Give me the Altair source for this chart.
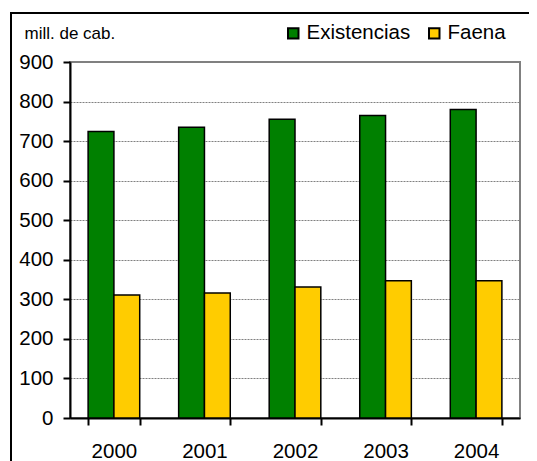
import altair as alt
import pandas as pd

years = ["2000", "2001", "2002", "2003", "2004"]
existencias = [724, 735, 755, 765, 780]
faena = [311, 316, 331, 347, 347]
series_names = ["Existencias", "Faena"]
series_colors = ["#008000", "#FFCC00"]

rows = []
for i, y in enumerate(years):
    rows.append({"year": y, "serie": "Existencias", "value": existencias[i]})
    rows.append({"year": y, "serie": "Faena", "value": faena[i]})
df = pd.DataFrame(rows)

FONT = "Liberation Sans"
W, H = 450, 356

bars = alt.Chart(df).mark_bar(stroke="black", strokeWidth=1.5).encode(
    x=alt.X(
        "year:N",
        title=None,
        scale=alt.Scale(paddingInner=0.43, paddingOuter=0.2),
        axis=alt.Axis(
            labelAngle=0,
            labelFontSize=20.5,
            labelFont=FONT,
            labelColor="black",
            labelPadding=16,
            tickBand="extent",
            tickSize=7,
            tickWidth=2,
            tickColor="black",
            domainColor="black",
            domainWidth=2,
            grid=False,
        ),
    ),
    xOffset=alt.XOffset("serie:N", sort=series_names, scale=alt.Scale(paddingInner=0)),
    y=alt.Y(
        "value:Q",
        scale=alt.Scale(domain=[0, 900], nice=False),
        axis=alt.Axis(
            values=[0, 100, 200, 300, 400, 500, 600, 700, 800, 900],
            labelFontSize=20.5,
            labelFont=FONT,
            labelColor="black",
            labelPadding=10,
            tickSize=7,
            tickWidth=2,
            tickColor="black",
            domainColor="black",
            domainWidth=2,
            grid=True,
            gridColor="#808080",
            gridDash=[2, 1],
            gridWidth=1,
            title="mill. de cab.",
            titleAngle=0,
            titleX=-46,
            titleY=-24,
            titleAlign="left",
            titleBaseline="alphabetic",
            titleFont=FONT,
            titleFontSize=17,
            titleFontWeight="normal",
            titleColor="black",
        ),
    ),
    color=alt.Color(
        "serie:N",
        sort=series_names,
        scale=alt.Scale(domain=series_names, range=series_colors),
        legend=alt.Legend(
            title=None,
            orient="none",
            legendX=213,
            legendY=-39,
            direction="horizontal",
            symbolType="square",
            symbolSize=110,
            symbolStrokeColor="black",
            symbolStrokeWidth=2,
            symbolOpacity=1,
            labelFont=FONT,
            labelFontSize=20.5,
            labelColor="black",
            labelOffset=3,
            columnPadding=13,
            padding=0,
        ),
    ),
)

frame = alt.Chart(alt.Data(values=[{"k": 1}])).mark_rect(
    filled=False, stroke="black", strokeWidth=2
).encode(
    x=alt.value(-59), x2=alt.value(W + 60), y=alt.value(-49), y2=alt.value(H + 80)
)

chart = (
    alt.layer(bars, frame)
    .properties(
        width=W,
        height=H,
        autosize=alt.AutoSizeParams(type="none"),
        padding={"left": 62, "top": 54, "right": 9, "bottom": 43},
        background="white",
    )
    .configure_view(stroke="#808080", strokeWidth=2)
)

chart.save("out.html", embed_options={"renderer": "svg", "actions": False})
